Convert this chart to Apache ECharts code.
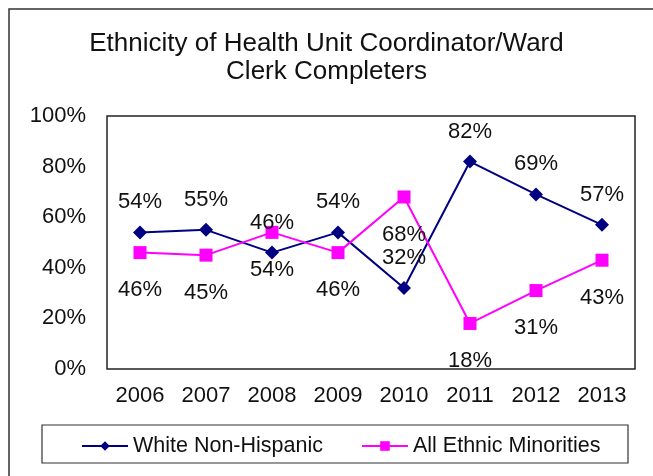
<!DOCTYPE html>
<html>
<head>
<meta charset="utf-8">
<script src="https://cdn.jsdelivr.net/npm/echarts@6/dist/echarts.min.js"></script>
<style>
  html, body { margin: 0; padding: 0; background: #fff; }
  #chart { width: 653px; height: 476px; }
</style>
</head>
<body>
<div id="chart"></div>
<script>
const years = ['2006', '2007', '2008', '2009', '2010', '2011', '2012', '2013']
const whiteNonHispanic = [54, 55, 46, 54, 32, 82, 69, 57]
const ethnicMinorities = [46, 45, 54, 46, 68, 18, 31, 43]
const yTicks = [0, 20, 40, 60, 80, 100]

const font = 'Liberation Sans, Arial, sans-serif'
const chart = echarts.init(document.getElementById('chart'))

chart.setOption({
  backgroundColor: '#fff',
  animation: false,
  title: {
    text: 'Ethnicity of Health Unit Coordinator/Ward\nClerk Completers',
    left: 'center',
    top: 25,
    textStyle: {
      fontFamily: font,
      fontWeight: 'normal',
      fontSize: 26,
      lineHeight: 28,
      color: '#111'
    }
  },
  graphic: [{
    type: 'rect',
    shape: { x: 9, y: 9, width: 660, height: 480 },
    style: { fill: 'none', stroke: '#333', lineWidth: 1.5 },
    silent: true
  }, {
    type: 'rect',
    shape: { x: 42, y: 425, width: 586, height: 38 },
    style: { fill: 'none', stroke: '#333', lineWidth: 1.2 },
    silent: true
  }],
  legend: {
    top: 430,
    left: 76,
    itemGap: 38,
    itemWidth: 46,
    itemHeight: 12,
    textStyle: { fontFamily: font, fontSize: 21.5, color: '#111' },
    data: ['White Non-Hispanic', 'All Ethnic Minorities']
  },
  grid: {
    left: 107,
    right: 18,
    top: 116,
    bottom: 107,
    show: true,
    borderColor: '#222',
    borderWidth: 1.5
  },
  xAxis: {
    type: 'category',
    data: years,
    boundaryGap: true,
    axisLine: { show: false },
    axisTick: { show: false },
    axisLabel: { fontFamily: font, fontSize: 22, color: '#111', margin: 16 }
  },
  yAxis: {
    type: 'value',
    min: yTicks[0],
    max: yTicks[yTicks.length - 1],
    interval: 20,
    splitLine: { show: false },
    axisLine: { show: false },
    axisTick: { show: false },
    axisLabel: { fontFamily: font, fontSize: 22, color: '#111', margin: 21, formatter: '{value}%' }
  },
  series: [{
    name: 'White Non-Hispanic',
    type: 'line',
    data: whiteNonHispanic,
    symbol: 'diamond',
    symbolSize: 14,
    itemStyle: { color: '#000080' },
    lineStyle: { color: '#000080', width: 2 },
    label: {
      show: true,
      position: 'top',
      distance: 12,
      formatter: '{c}%',
      fontFamily: font,
      fontSize: 22,
      color: '#111'
    }
  }, {
    name: 'All Ethnic Minorities',
    type: 'line',
    data: ethnicMinorities,
    symbol: 'rect',
    symbolSize: 13,
    itemStyle: { color: '#ff00ff' },
    lineStyle: { color: '#ff00ff', width: 2 },
    label: {
      show: true,
      position: 'bottom',
      distance: 20,
      formatter: '{c}%',
      fontFamily: font,
      fontSize: 22,
      color: '#111'
    }
  }]
})
</script>
</body>
</html>
